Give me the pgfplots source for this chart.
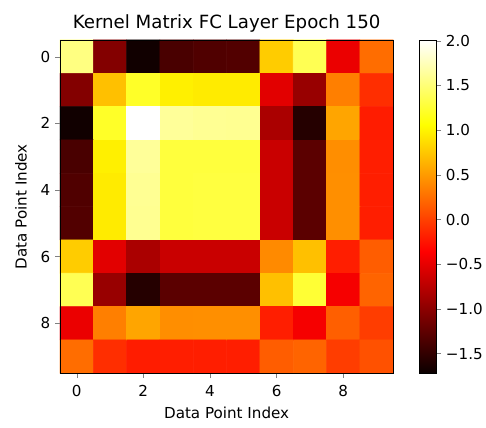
\documentclass[border=0pt]{standalone}
\usepackage{fontspec}
\setmainfont{DejaVu Sans}
\usepackage{pgfplots}
\pgfplotsset{compat=1.18}
\usepackage{pgfplotstable}

% matplotlib-style "hot" colormap
\pgfplotsset{
  colormap={hot}{rgb255(0cm)=(10,0,0) rgb255(3.65cm)=(255,0,0) rgb255(7.46cm)=(255,255,0) rgb255(10cm)=(255,255,255)}
}

% kernel matrix, one row per line (row index i, column index j)
\pgfplotstableread{
j i c
0 0 1.54
1 0 -1.05
2 0 -1.68
3 0 -1.37
4 0 -1.33
5 0 -1.32
6 0 0.78
7 0 1.37
8 0 -0.47
9 0 0.25
0 1 -1.05
1 1 0.71
2 1 1.21
3 1 0.98
4 1 0.95
5 1 0.95
6 1 -0.52
7 1 -0.93
8 1 0.35
9 1 -0.10
0 2 -1.68
1 2 1.21
2 2 2.01
3 2 1.63
4 2 1.61
5 2 1.60
6 2 -0.83
7 2 -1.57
8 2 0.56
9 2 -0.20
0 3 -1.37
1 3 0.98
2 3 1.63
3 3 1.29
4 3 1.29
5 3 1.29
6 3 -0.66
7 3 -1.27
8 3 0.43
9 3 -0.19
0 4 -1.33
1 4 0.95
2 4 1.61
3 4 1.29
4 4 1.30
5 4 1.30
6 4 -0.66
7 4 -1.27
8 4 0.44
9 4 -0.19
0 5 -1.32
1 5 0.95
2 5 1.60
3 5 1.29
4 5 1.30
5 5 1.30
6 5 -0.66
7 5 -1.27
8 5 0.44
9 5 -0.19
0 6 0.78
1 6 -0.52
2 6 -0.83
3 6 -0.66
4 6 -0.66
5 6 -0.66
6 6 0.41
7 6 0.71
8 6 -0.19
9 6 0.16
0 7 1.37
1 7 -0.93
2 7 -1.57
3 7 -1.27
4 7 -1.27
5 7 -1.27
6 7 0.71
7 7 1.26
8 7 -0.41
9 7 0.20
0 8 -0.47
1 8 0.35
2 8 0.56
3 8 0.43
4 8 0.44
5 8 0.44
6 8 -0.19
7 8 -0.41
8 8 0.17
9 8 -0.02
0 9 0.25
1 9 -0.10
2 9 -0.20
3 9 -0.19
4 9 -0.19
5 9 -0.19
6 9 0.16
7 9 0.20
8 9 -0.02
9 9 0.09
}\kernel

\begin{document}
\begin{tikzpicture}
\useasboundingbox (-43.2pt,-38.9pt) rectangle (306.8pt,268.8pt);
\begin{axis}[
  at={(0,0)}, anchor=south west,
  width=240pt, height=240pt, scale only axis,
  xmin=-0.5, xmax=9.5, ymin=-0.5, ymax=9.5,
  y dir=reverse,
  enlargelimits=false,
  axis on top,
  xtick={0,2,4,6,8}, ytick={0,2,4,6,8},
  xtick pos=left, ytick pos=left,
  tick align=outside,
  major tick length=3.5pt,
  /pgf/number format/assume math mode=true,
  tick label style={font=\fontsize{10.9}{13}\selectfont},
  xticklabel style={yshift=-1.5pt},
  label style={font=\fontsize{10.9}{13}\selectfont},
  xlabel style={yshift=-1pt},
  ylabel style={yshift=3pt},
  title style={font=\fontsize{13.1}{15}\selectfont, yshift=-4pt},
  title={Kernel Matrix FC Layer Epoch 150},
  xlabel={Data Point Index},
  ylabel={Data Point Index},
  colormap name=hot,
  point meta min=-1.72, point meta max=2.01,
  colorbar,
  colorbar style={
    at={(parent axis.north east)}, anchor=north west, xshift=10.2pt,
    width=12.2pt,
    ytick={-1.5,-1,-0.5,0,0.5,1,1.5,2},
    yticklabels={−1.5,−1.0,−0.5,0.0,0.5,1.0,1.5,2.0},
    yticklabel style={font=\fontsize{10.9}{13}\selectfont},
    ytick pos=right,
    tick align=outside,
    major tick length=3.5pt,
  },
]
\addplot[matrix plot*, mesh/cols=10, point meta=explicit] table[x=j, y=i, meta=c] {\kernel};
\end{axis}
\end{tikzpicture}
\end{document}
